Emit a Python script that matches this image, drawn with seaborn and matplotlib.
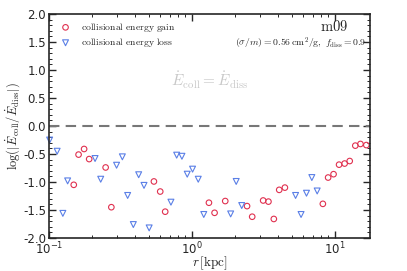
import matplotlib
matplotlib.use("Agg")
import matplotlib.pyplot as plt
import matplotlib.ticker as mticker
import seaborn as sns
import numpy as np

# collisional energy gain (red circles)
gain_r = [0.149, 0.161, 0.176, 0.191, 0.249, 0.273, 0.542, 0.600, 0.650,
          1.315, 1.44, 1.71, 2.43, 2.64, 3.15, 3.43, 3.74, 4.08, 4.47,
          8.24, 8.97, 9.79, 10.7, 11.7, 12.7, 13.9, 15.1, 16.6]
gain_y = [-1.05, -0.51, -0.41, -0.59, -0.74, -1.45, -0.99, -1.17, -1.53,
          -1.37, -1.55, -1.34, -1.43, -1.62, -1.33, -1.35, -1.66, -1.14, -1.10,
          -1.39, -0.92, -0.86, -0.69, -0.67, -0.625, -0.35, -0.32, -0.34]

# collisional energy loss (blue triangles)
loss_r = [0.101, 0.114, 0.125, 0.135, 0.21, 0.23, 0.297, 0.326, 0.355,
          0.389, 0.424, 0.462, 0.502, 0.713, 0.782, 0.851, 0.927, 1.01,
          1.107, 1.21, 1.866, 2.04, 2.23, 5.31, 5.80, 6.33, 6.90, 7.52]
loss_y = [-0.25, -0.45, -1.56, -0.98, -0.58, -0.95, -0.70, -0.55, -1.24,
          -1.76, -0.87, -1.06, -1.82, -1.36, -0.52, -0.54, -0.86, -0.77,
          -0.95, -1.58, -1.57, -0.99, -1.42, -1.24, -1.58, -1.20, -0.92, -1.16]

red = "#e0304f"
blue = "#5a7fe6"

sns.set_style("ticks")
plt.rcParams["mathtext.fontset"] = "cm"
plt.rcParams["font.family"] = ["DejaVu Sans"]

fig = plt.figure(figsize=(4.07, 2.71), dpi=100)
ax = fig.add_axes([0.1204, 0.1218, 0.7886, 0.8262])

sns.scatterplot(x=gain_r, y=gain_y, ax=ax, marker="o", s=16,
                facecolors="none", edgecolor=red, linewidth=0.8,
                label=r"$\mathrm{collisional\ energy\ gain}$", clip_on=False)
sns.scatterplot(x=loss_r, y=loss_y, ax=ax, marker="v", s=18,
                facecolors="none", edgecolor=blue, linewidth=0.8,
                label=r"$\mathrm{collisional\ energy\ loss}$", clip_on=False)

ax.axhline(0, color="#777777", linestyle=(0, (5, 3)), linewidth=1.5, zorder=1)

ax.set_xscale("log")
ax.set_xlim(0.1, 17.6)
ax.set_ylim(-2.0, 2.0)
ax.yaxis.set_major_locator(mticker.MultipleLocator(0.5))
ax.yaxis.set_minor_locator(mticker.MultipleLocator(0.1))
ax.yaxis.set_major_formatter(mticker.FormatStrFormatter("%.1f"))
ax.xaxis.set_minor_locator(mticker.LogLocator(base=10, subs=np.arange(2, 10)))

ax.tick_params(which="both", direction="in", top=True, right=True,
               labelsize=8.5, pad=2)
ax.tick_params(which="major", length=5, width=1)
ax.tick_params(which="minor", length=2.5, width=0.7)
for s in ax.spines.values():
    s.set_linewidth(1.2)

ax.set_xlabel(r"$r\,[{\rm kpc}]$", fontsize=9.5)
ax.xaxis.set_label_coords(0.5, -0.112)
ax.xaxis.label.set_va("center")
ax.set_ylabel(r"$\log(|\dot{E}_{\rm coll}/\dot{E}_{\rm diss}|)$", fontsize=9,
              labelpad=1)

leg = ax.legend(loc="upper left", frameon=False, fontsize=7, handletextpad=0.6,
                borderaxespad=0.3, labelspacing=0.25, markerscale=1.0)

ax.text(0.931, 0.943, r"$\mathrm{m09}$", transform=ax.transAxes, ha="right",
        va="center", fontsize=10.5)
ax.text(0.99, 0.872, r"$(\sigma/m) = 0.56\,{\rm cm^2/g},\ f_{\rm diss} = 0.9$",
        transform=ax.transAxes, ha="right", va="center", fontsize=7)
ax.text(0.5, 0.705, r"$\dot{E}_{\rm coll} = \dot{E}_{\rm diss}$",
        transform=ax.transAxes, ha="center", va="center", fontsize=11,
        color="#c8c8c8")

fig.savefig("out.png", dpi=100)
